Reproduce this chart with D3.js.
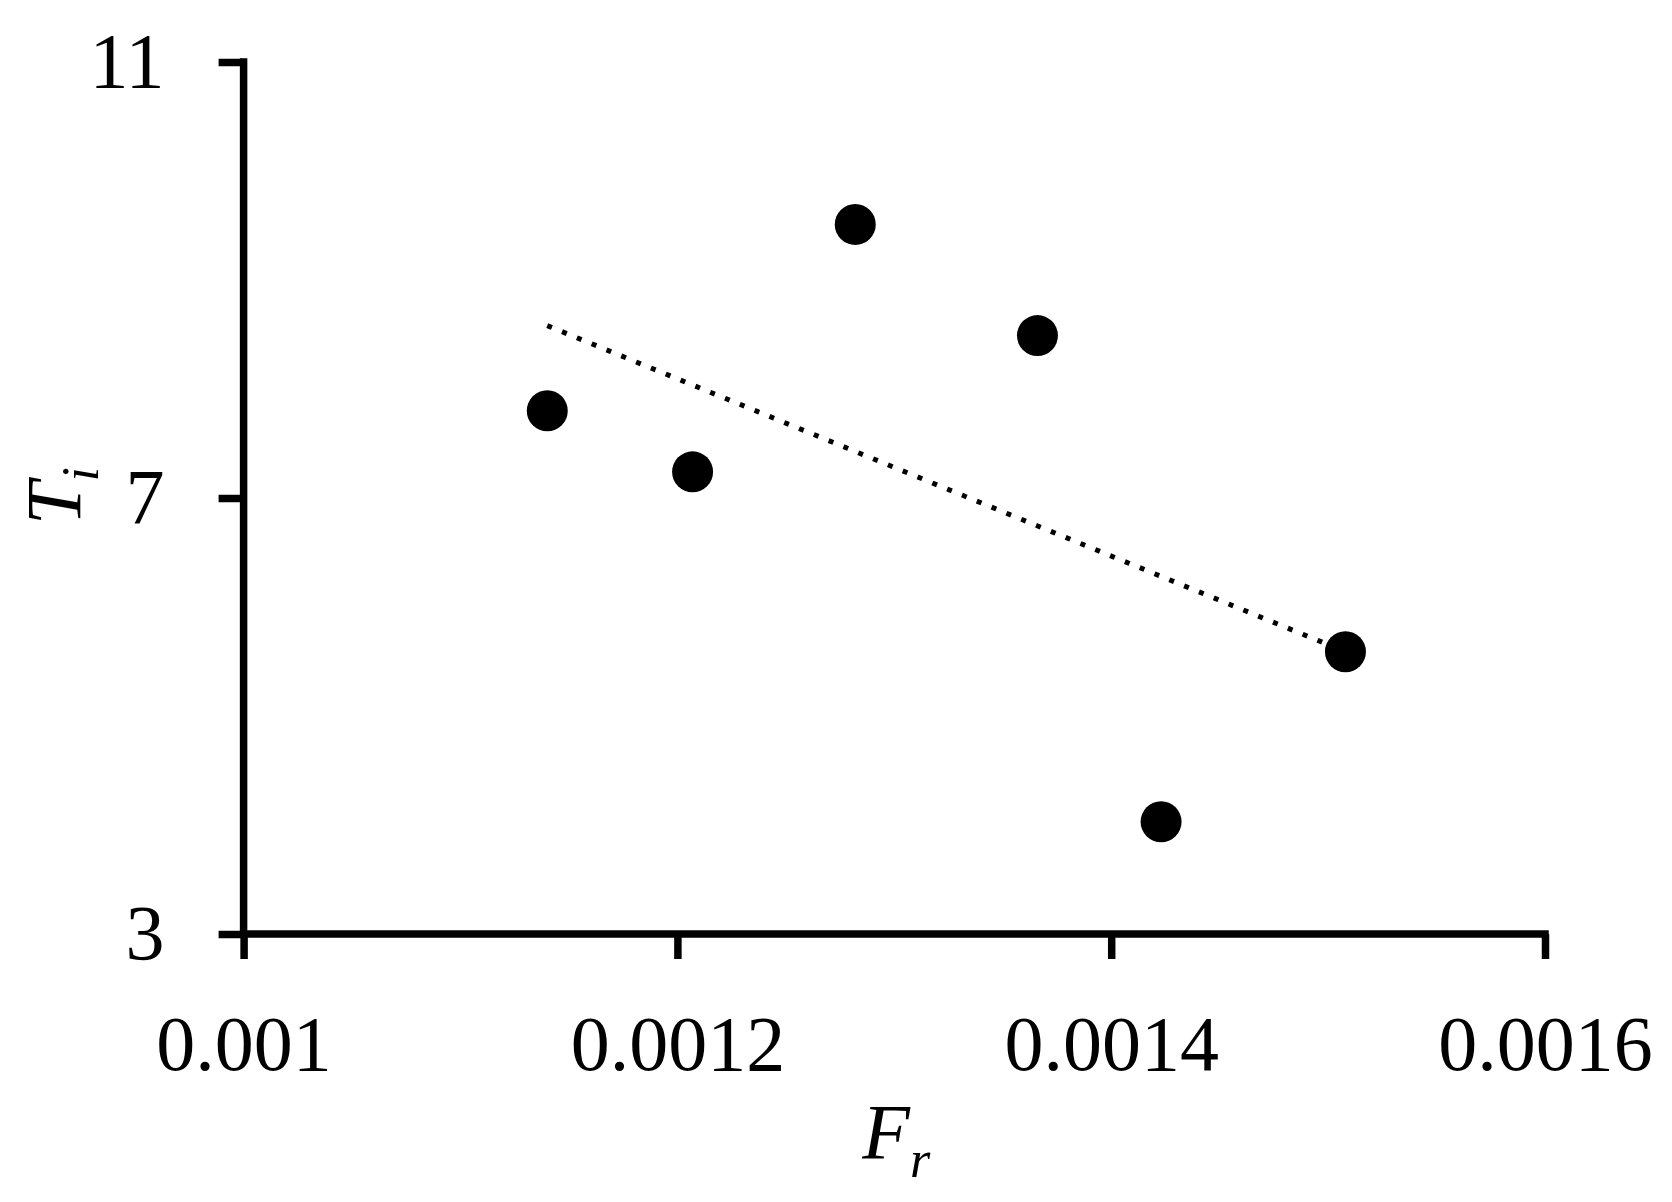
<!DOCTYPE html>
<html>
<head>
<meta charset="utf-8">
<script src="https://cdn.jsdelivr.net/npm/d3@7"></script>
<style>
  html, body { margin: 0; padding: 0; background: #fff; }
  svg { display: block; }
</style>
</head>
<body>
<svg id="chart" width="1672" height="1202"></svg>
<script>
// Data
const frValues = [0.001140, 0.001207, 0.001282, 0.001366, 0.001423, 0.001508];
const tiValues = [7.80, 7.24, 9.51, 8.49, 4.03, 5.59];
const xTicks = [0.001, 0.0012, 0.0014, 0.0016];
const xTickLabels = ["0.001", "0.0012", "0.0014", "0.0016"];
const yTicks = [3, 7, 11];
const yTickLabels = ["3", "7", "11"];

(function () {
const svg = d3.select("#chart");
const mLeft = 243.6, mRight = 1545, mTop = 62, mBottom = 934;

const x = d3.scaleLinear().domain([0.001, 0.0016]).range([mLeft, mRight]);
const y = d3.scaleLinear().domain([3, 11]).range([mBottom, mTop]);

const fontFam = "'Palatino Linotype', 'Book Antiqua', Palatino, 'Liberation Serif', 'DejaVu Serif', serif";

// Y axis
const yAxis = d3.axisLeft(y)
  .tickValues(yTicks)
  .tickFormat((d, i) => yTickLabels[i])
  .tickSize(25).tickSizeOuter(0).tickPadding(54);
const gy = svg.append("g").attr("transform", `translate(${mLeft},0)`).call(yAxis);

// X axis
const xAxis = d3.axisBottom(x)
  .tickValues(xTicks)
  .tickFormat((d, i) => xTickLabels[i])
  .tickSize(25).tickSizeOuter(0).tickPadding(56);
const gx = svg.append("g").attr("transform", `translate(0,${mBottom})`).call(xAxis);

[gx, gy].forEach(g => {
  g.select(".domain").attr("stroke", "#000").attr("stroke-width", 7.5);
  g.selectAll(".tick line").attr("stroke", "#000").attr("stroke-width", 7.5);
  g.selectAll(".tick text")
    .attr("fill", "#000")
    .style("font-family", fontFam)
    .style("font-size", "78px");
});
gy.select(".domain").attr("d", `M0,${mTop - 3.75}V${mBottom}`);
gx.select(".domain").attr("d", `M${mLeft - 3.75},0H${mRight + 3.75}`);

// Linear trend line (least squares from the data)
const mx = d3.mean(frValues), my = d3.mean(tiValues);
let sxy = 0, sxx = 0;
frValues.forEach((v, i) => { sxy += (v - mx) * (tiValues[i] - my); sxx += (v - mx) * (v - mx); });
const slope = sxy / sxx, intercept = my - slope * mx;
const x0 = d3.min(frValues), x1 = d3.max(frValues);
svg.append("line")
  .attr("x1", x(x0)).attr("y1", y(intercept + slope * x0))
  .attr("x2", x(x1)).attr("y2", y(intercept + slope * x1))
  .attr("stroke", "#000")
  .attr("stroke-width", 5)
  .attr("stroke-dasharray", "5,11");

// Points
svg.append("g").selectAll("circle")
  .data(frValues.map((v, i) => ({ fr: v, ti: tiValues[i] })))
  .join("circle")
  .attr("cx", d => x(d.fr))
  .attr("cy", d => y(d.ti))
  .attr("r", 20.5)
  .attr("fill", "#000");

// Axis titles
const xt = svg.append("text")
  .attr("x", (mLeft + mRight) / 2 + 2)
  .attr("y", 1158)
  .attr("text-anchor", "middle")
  .style("font-family", fontFam)
  .style("font-style", "italic")
  .style("font-size", "78px")
  .attr("fill", "#000");
xt.append("tspan").text("F");
xt.append("tspan").attr("dy", 19).style("font-size", "52px").text("r");

const yt = svg.append("text")
  .attr("transform", `translate(80,${y(7) - 2}) rotate(-90)`)
  .attr("text-anchor", "middle")
  .style("font-family", fontFam)
  .style("font-style", "italic")
  .style("font-size", "78px")
  .attr("fill", "#000");
yt.append("tspan").text("T");
yt.append("tspan").attr("dy", 18).style("font-size", "52px").text("i");
})();
</script>
</body>
</html>
